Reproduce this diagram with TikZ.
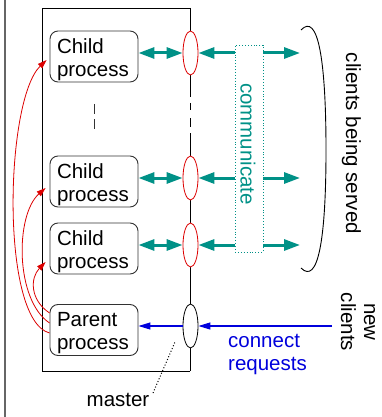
\documentclass[tikz,border=0pt]{standalone}
\usepackage{fontspec}
\setmainfont{Liberation Sans}
\usetikzlibrary{shapes.geometric,arrows.meta,calc}
\definecolor{tealc}{RGB}{0,145,135}
\definecolor{redc}{RGB}{220,0,0}
\definecolor{bluec}{RGB}{0,0,220}
\definecolor{boxc}{RGB}{50,50,50}
\begin{document}
\begin{tikzpicture}[x=1pt,y=-1pt,
  every node/.style={font=\fontsize{20.5}{23}\selectfont, inner sep=0pt},
  procbox/.style={draw=boxc, line width=0.9pt, rounded corners=8pt, minimum width=88pt, minimum height=51pt},
  proctext/.style={align=left, text width=74pt},
  port/.style={draw=redc, fill=white, ellipse, minimum width=15pt, minimum height=44pt, line width=0.8pt},
  tealboth/.style={draw=tealc, line width=3pt, {Triangle[length=16pt,width=11pt]}-{Triangle[length=16pt,width=11pt]}},
  tealarr/.style={draw=tealc, line width=3pt, -{Triangle[length=16pt,width=11pt]}},
  bluearr/.style={draw=bluec, line width=1.1pt, -{Triangle[length=12pt,width=7pt]}},
  forkarr/.style={draw=redc, line width=0.8pt, -{Triangle[length=9pt,width=6pt]}},
  frame/.style={draw=black, line width=0.9pt}
]
\useasboundingbox (0,0) rectangle (381,417);
% outer left line
\draw[line width=1.2pt, black!60] (5,0) -- (5,417);
% master frame
\draw[frame] (190,8) -- (42,8) -- (42,371) -- (190,371);
\draw[frame] (190,8) -- (190,97);
\draw[frame] (190,103) -- (190,110);
\draw[frame] (190,118) -- (190,127);
\draw[frame] (190,133) -- (190,371);
% vertical ellipsis between children
\draw[boxc, line width=0.9pt, dash pattern=on 10pt off 5pt] (94,104) -- (94,133);

% process boxes
\node[procbox] (c1) at (94,56.5) {};
\node[proctext] (t1) at (94,59.3) {Child\\process};
\node[procbox] (c2) at (94,181.5) {};
\node[proctext] (t2) at (94,184.3) {Child\\process};
\node[procbox] (c3) at (94,248.5) {};
\node[proctext] (t3) at (94,251.3) {Child\\process};
\node[procbox] (p) at (94,330) {};
\node[proctext] (tp) at (94,332.8) {Parent\\process};

% sockets
\node[port] (e1) at (190.5,53) {};
\node[port] (e2) at (190.5,178) {};
\node[port] (e3) at (190.5,245) {};
\node[port, draw=black] (e4) at (190.5,326) {};

% communicate box
\node[draw=tealc, dotted, line width=0.9pt, minimum width=28pt, minimum height=207pt] (cb) at (249,148.5) {};
\node[rotate=-90, text=tealc] (ct) at (248,144) {communicate};

% teal arrows
\draw[tealboth] (c1.east |- e1) -- (e1.west);
\draw[tealboth] (c2.east |- e2) -- (e2.west);
\draw[tealboth] (c3.east |- e3) -- (e3.west);
\draw[tealarr] (cb.west |- e1) -- (e1.east);
\draw[tealarr] (cb.west |- e2) -- (e2.east);
\draw[tealarr] (cb.west |- e3) -- (e3.east);
\coordinate (o1) at (300,53);
\coordinate (o2) at (300,178);
\coordinate (o3) at (300,245);
\draw[tealarr] (cb.east |- o1) -- (o1);
\draw[tealarr] (cb.east |- o2) -- (o2);
\draw[tealarr] (cb.east |- o3) -- (o3);

% bracket of clients
\draw[line width=0.9pt] (301,30) .. controls (318,12) and (326,60) .. (326,150)
  .. controls (326,240) and (318,285) .. (301,268);
\node[rotate=-90] (cl) at (351.5,143.5) {clients being served};

% new clients
\coordinate (nc) at (332,326);
\draw[bluearr] (nc) -- (e4.east);
\draw[bluearr] (e4.west) -- (p.east |- e4);
\node[rotate=-90, align=center] (nw) at (358,322) {new\\clients};
\node[text=bluec, align=left, anchor=west] (cr) at (228,354.5) {connect\\requests};

% fork arrows
\draw[forkarr] ($(p.west)+(0,3)$) .. controls (0,320) and (5,100) .. ($(c1.west)+(-3,3.5)$);
\draw[forkarr] ($(p.west)+(0,-7)$) .. controls (15,300) and (15,215) .. ($(c2.west)+(-4,6.5)$);
\draw[forkarr] ($(p.west)+(0,-17)$) .. controls (30,300) and (30,278) .. ($(c3.west)+(-4,13.5)$);

% master label
\node (m) at (118,400) {master};
\coordinate (ml) at (153,393);
\coordinate (mt) at (175,342);
\draw[dotted, line width=1pt] (ml) -- (mt);
\end{tikzpicture}
\end{document}
